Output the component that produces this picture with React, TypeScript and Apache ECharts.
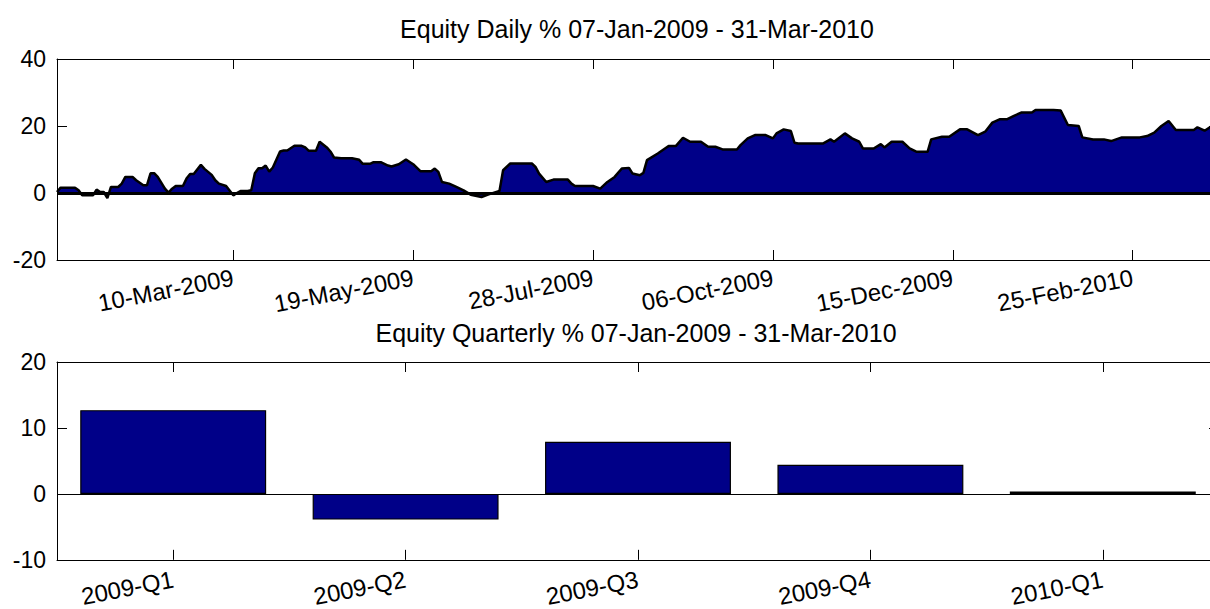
import React, { useEffect, useRef } from "react";
import * as echarts from "echarts";

// ---- Data ----
const dailyTitle = "Equity Daily % 07-Jan-2009 - 31-Mar-2010";
const quarterlyTitle = "Equity Quarterly % 07-Jan-2009 - 31-Mar-2010";

// trading-day index positions of the date ticks and their labels
const dailyTickIdx = [50, 100, 150, 200, 250, 300];
const dailyTickLabels = ["10-Mar-2009", "19-May-2009", "28-Jul-2009", "06-Oct-2009", "15-Dec-2009", "25-Feb-2010"];

// trading-day index and cumulative equity %
const dayIdx = [
  1, 2, 6, 7, 8, 11, 12, 13, 14, 15, 16, 18, 19, 20, 22, 23, 25, 26, 27, 28, 29, 31, 32, 33, 34, 36, 37, 38, 39, 41,
  42, 44, 45, 46, 48, 50, 51, 52, 54, 55, 56, 57, 58, 59, 60, 61, 63, 64, 65, 67, 69, 70, 71, 73, 74, 76, 77, 78, 80, 83,
  85, 86, 88, 89, 91, 93, 94, 96, 98, 100, 102, 105, 106, 107, 108, 110, 112, 114, 116, 119, 121, 124, 125, 127, 133, 134,
  135, 137, 139, 143, 144, 145, 148, 150, 152, 154, 156, 158, 160, 161, 163, 164, 165, 168, 170, 171, 173, 175, 177, 180,
  182, 184, 186, 190, 191, 193, 195, 198, 200, 201, 203, 205, 206, 207, 214, 216, 217, 220, 222, 224, 225, 228, 230, 231,
  233, 236, 238, 240, 243, 244, 247, 249, 252, 254, 257, 259, 261, 263, 265, 267, 269, 272, 273, 278, 280, 282, 285, 286,
  289, 292, 294, 297, 302, 304, 306, 308, 310, 312, 314, 317, 318, 320, 322, 324,
];
const dailyPct = [
  0.3, 1.6, 1.6, 0.8, -0.7, -0.7, 1.0, 0.3, 0.3, -1.5, 1.8, 1.8, 2.8, 4.8, 4.8, 3.8, 2.3, 2.3, 5.9, 5.9, 4.8, 1.3, 0.1, 1.3, 2.1, 2.1, 4.3, 5.7, 5.7, 8.4,
  7.2, 5.4, 3.8, 2.8, 2.1, -0.7, 0, 0.6, 0.6, 0.8, 5.9, 7.4, 7.4, 8.2, 6.4, 7.6, 12.4, 12.7, 12.7, 14.1, 14.1, 13.6, 12.6, 12.6, 15.3, 13.6, 12.4, 10.6, 10.4, 10.4,
  9.9, 8.7, 8.7, 9.2, 9.2, 8.2, 7.9, 8.6, 10.0, 8.6, 6.5, 6.5, 7.3, 6.3, 3.3, 2.8, 1.8, 0.8, -0.5, -1.2, -0.4, 0.6, 6.8, 8.8, 8.8, 7.8,
  5.8, 3.3, 4.0, 4.0, 2.8, 2.1, 2.1, 2.1, 1.3, 3.3, 4.8, 7.3, 7.5, 5.8, 5.3, 6.0, 9.8, 11.8, 13.3, 14.0, 14.0, 16.5, 15.3, 15.3,
  13.8, 13.8, 13.0, 13.0, 14.3, 16.3, 17.3, 17.3, 16.3, 17.8, 19.0, 18.5, 15.0, 14.8, 14.8, 16.0, 15.3, 17.8, 16.3, 15.3, 13.3, 13.3, 14.6, 13.6,
  15.3, 15.3, 13.3, 12.3, 12.3, 16.0, 16.8, 16.8, 19.0, 19.0, 17.3, 18.3, 21.0, 22.0, 22.0, 23.0, 24.0, 24.0, 24.8, 24.8, 24.6, 20.3, 20.0, 16.6,
  16.0, 16.0, 15.5, 16.6, 16.6, 17.0, 18.0, 20.0, 21.5, 18.8, 18.8, 18.8, 19.6, 18.6, 20.0, 20.0,
];

const quarters = ["2009-Q1", "2009-Q2", "2009-Q3", "2009-Q4", "2010-Q1"];
const quarterlyPct = [12.7, -3.9, 7.9, 4.4, 0.35];

const dailyYTicks = { min: -20, max: 40, interval: 20 };
const quarterlyYTicks = { min: -10, max: 20, interval: 10 };

// ---- Styles ----
const FONT = "Liberation Sans";
const NAVY = "#000088";

export default function App() {
  const ref = useRef<HTMLDivElement>(null);

  useEffect(() => {
    if (!ref.current) return;
    const chart = echarts.init(ref.current, undefined, { renderer: "svg" });

    const axisLine = { show: true, onZero: false, lineStyle: { color: "#000", width: 1 } };
    const tickIn = { show: true, inside: true, length: 10, lineStyle: { color: "#000", width: 1 } };
    const yLabel = { color: "#000", fontFamily: FONT, fontSize: 23, margin: 11 };
    const xLabel = { color: "#000", fontFamily: FONT, fontSize: 24, rotate: 11 };

    const fmtDay = (v: number) => {
      const i = dailyTickIdx.indexOf(Math.round(v));
      return i >= 0 ? dailyTickLabels[i] : "";
    };

    const option: any = {
      animation: false,
      backgroundColor: "#fff",
      grid: [
        { left: 57, top: 59, width: 1162, height: 201 },
        { left: 57, top: 362, width: 1162, height: 203 },
      ],
      xAxis: [
        {
          gridIndex: 0, type: "value", min: 1, max: 324, position: "bottom",
          axisLine, splitLine: { show: false },
          axisTick: { ...tickIn, customValues: dailyTickIdx },
          axisLabel: { ...xLabel, margin: 17, customValues: dailyTickIdx, formatter: fmtDay },
        },
        {
          gridIndex: 0, type: "value", min: 1, max: 324, position: "top",
          axisLine, splitLine: { show: false },
          axisTick: { ...tickIn, customValues: dailyTickIdx },
          axisLabel: { show: false, customValues: dailyTickIdx },
        },
        {
          gridIndex: 1, type: "category", data: quarters, position: "bottom",
          axisLine, splitLine: { show: false },
          axisTick: { ...tickIn, alignWithLabel: true },
          axisLabel: { ...xLabel, margin: 19, interval: 0 },
        },
        {
          gridIndex: 1, type: "category", data: quarters, position: "top",
          axisLine, splitLine: { show: false },
          axisTick: { ...tickIn, alignWithLabel: true },
          axisLabel: { show: false },
        },
      ],
      yAxis: [
        {
          gridIndex: 0, type: "value", ...dailyYTicks, position: "left",
          axisLine, axisTick: tickIn, splitLine: { show: false }, axisLabel: yLabel,
        },
        {
          gridIndex: 0, type: "value", ...dailyYTicks, position: "right",
          axisLine, axisTick: tickIn, splitLine: { show: false }, axisLabel: { show: false },
        },
        {
          gridIndex: 1, type: "value", ...quarterlyYTicks, position: "left",
          axisLine, axisTick: tickIn, splitLine: { show: false }, axisLabel: yLabel,
        },
        {
          gridIndex: 1, type: "value", ...quarterlyYTicks, position: "right",
          axisLine, axisTick: tickIn, splitLine: { show: false }, axisLabel: { show: false },
        },
      ],
      series: [
        {
          type: "line",
          xAxisIndex: 0,
          yAxisIndex: 0,
          data: dayIdx.map((d, i) => [d, dailyPct[i]]),
          symbol: "none",
          lineStyle: { color: "#000", width: 2.5 },
          areaStyle: { color: NAVY, opacity: 1, origin: 0 },
          markLine: {
            silent: true,
            symbol: "none",
            label: { show: false },
            lineStyle: { color: "#000", width: 3, type: "solid" },
            data: [{ yAxis: 0 }],
          },
          z: 2,
        },
        {
          type: "bar",
          xAxisIndex: 2,
          yAxisIndex: 2,
          data: quarterlyPct,
          barWidth: "80%",
          itemStyle: { color: NAVY, borderColor: "#000", borderWidth: 1.2 },
          markLine: {
            silent: true,
            symbol: "none",
            label: { show: false },
            lineStyle: { color: "#000", width: 1.2, type: "solid" },
            data: [{ yAxis: 0 }],
          },
        },
      ],
      graphic: [
        {
          type: "text", x: 637, y: 29,
          style: { text: dailyTitle, font: `25px "${FONT}"`, fill: "#000", align: "center", verticalAlign: "middle", textAlign: "center", textVerticalAlign: "middle" },
        },
        {
          type: "text", x: 636, y: 333,
          style: { text: quarterlyTitle, font: `25px "${FONT}"`, fill: "#000", align: "center", verticalAlign: "middle", textAlign: "center", textVerticalAlign: "middle" },
        },
      ],
    };

    chart.setOption(option);
    return () => chart.dispose();
  }, []);

  return (
    <div style={{ position: "absolute", left: 0, top: 0, width: 1210, height: 609, overflow: "hidden", background: "#fff" }}>
      <div ref={ref} style={{ width: 1232, height: 609 }} />
    </div>
  );
}
